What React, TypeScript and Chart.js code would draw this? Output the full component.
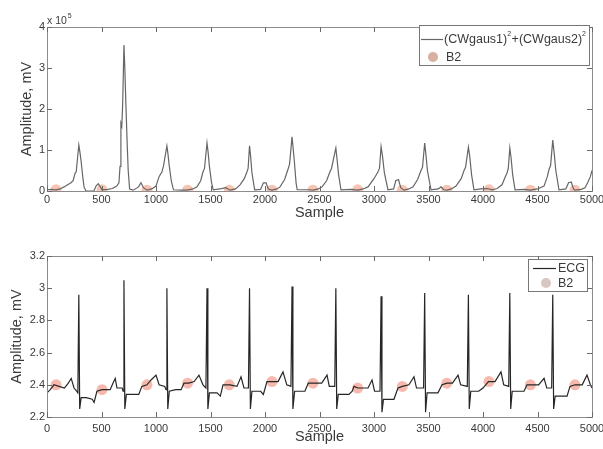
import React, { useEffect, useRef } from "react";
import { Chart, registerables } from "chart.js";

Chart.register(...registerables);

// ---------- data ----------
const xTicks = [0, 500, 1000, 1500, 2000, 2500, 3000, 3500, 4000, 4500, 5000];
const energyTicks = [0, 1, 2, 3, 4];
const ecgTicks = [2.2, 2.4, 2.6, 2.8, 3, 3.2];

// (CWgaus1)^2 + (CWgaus2)^2, in units of 10^5
const energySamples = [
  0, 40, 83, 120, 156, 220, 240, 257, 268, 280, 292, 302, 312, 330, 340, 357,
  430, 450, 470, 490, 505, 560, 600, 640, 660, 670, 678, 686, 694, 706, 714, 724, 735, 745, 758,
  790, 840, 862, 885, 917, 960, 1000, 1028, 1055, 1068, 1100, 1110, 1120, 1140, 1160,
  1230, 1284, 1340, 1376, 1410, 1431, 1445, 1468, 1478, 1490, 1510, 1525,
  1600, 1640, 1679, 1730, 1771, 1810, 1835, 1845, 1858, 1868, 1880, 1905,
  1960, 1985, 2010, 2030, 2064, 2110, 2138, 2180, 2211, 2225, 2248, 2258, 2270, 2285, 2295,
  2400, 2440, 2490, 2523, 2565, 2596, 2610, 2650, 2660, 2675, 2697,
  2790, 2853, 2900, 2945, 3000, 3037, 3050, 3065, 3078, 3095, 3128,
  3180, 3200, 3225, 3245, 3275, 3320, 3358, 3400, 3431, 3445, 3465, 3476, 3490, 3523,
  3590, 3615, 3640, 3670, 3710, 3752, 3800, 3826, 3840, 3866, 3878, 3895, 3917,
  3980, 4040, 4083, 4130, 4174, 4205, 4220, 4232, 4246, 4258, 4272, 4294,
  4380, 4431, 4500, 4560, 4590, 4606, 4620, 4640, 4652, 4668, 4697,
  4760, 4785, 4810, 4830, 4844, 4900, 4936, 4960, 4985, 5000,
];
const energyValues = [
  0.03, 0.04, 0.03, 0.05, 0.1, 0.2, 0.25, 0.43, 0.47, 0.8, 1.12, 0.95, 0.75, 0.3, 0.1, 0.0,
  0.0, 0.12, 0.18, 0.1, 0.03, 0.04, 0.06, 0.12, 0.2, 0.6, 1.65, 1.58, 2.1, 3.56, 3.0, 2.1, 1.2, 0.5, 0.05,
  0.02, 0.1, 0.2, 0.08, 0.02, 0.05, 0.12, 0.35, 0.47, 0.6, 1.1, 0.9, 0.65, 0.25, 0.03,
  0.02, 0.02, 0.05, 0.1, 0.25, 0.47, 0.55, 1.17, 0.95, 0.6, 0.2, 0.03,
  0.06, 0.08, 0.02, 0.05, 0.15, 0.3, 0.47, 0.55, 1.1, 0.85, 0.45, 0.03,
  0.04, 0.2, 0.2, 0.05, 0.02, 0.05, 0.1, 0.28, 0.53, 0.65, 1.32, 1.05, 0.7, 0.2, 0.03,
  0.03, 0.02, 0.05, 0.1, 0.25, 0.47, 0.55, 1.05, 0.8, 0.4, 0.03,
  0.04, 0.02, 0.05, 0.1, 0.3, 0.47, 0.55, 1.08, 0.85, 0.45, 0.03,
  0.05, 0.25, 0.28, 0.08, 0.02, 0.05, 0.1, 0.28, 0.5, 0.58, 1.17, 0.9, 0.5, 0.03,
  0.05, 0.1, 0.03, 0.02, 0.05, 0.12, 0.3, 0.5, 0.58, 1.07, 0.85, 0.4, 0.03,
  0.05, 0.06, 0.03, 0.06, 0.15, 0.35, 0.44, 0.55, 1.05, 0.8, 0.4, 0.03,
  0.04, 0.02, 0.05, 0.12, 0.35, 0.53, 0.62, 1.24, 0.95, 0.5, 0.03,
  0.05, 0.2, 0.22, 0.05, 0.02, 0.04, 0.08, 0.2, 0.35, 0.5,
];

// ECG, mV
const ecgSamples = [
  0, 30, 64, 110, 160, 195, 222, 248, 272, 283, 292, 300, 313,
  360, 415, 432, 458, 505, 580, 605, 626, 642, 690, 698, 706, 714, 728,
  790, 842, 870, 917, 955, 1000, 1028, 1080, 1092, 1100, 1108, 1122,
  1180, 1230, 1257, 1300, 1350, 1394, 1431, 1458, 1468, 1476, 1490,
  1560, 1590, 1615, 1679, 1743, 1780, 1807, 1848, 1858, 1866, 1880,
  1960, 1985, 2018, 2064, 2120, 2165, 2200, 2238, 2248, 2256, 2272,
  2366, 2397, 2440, 2520, 2569, 2590, 2640, 2650, 2658, 2672,
  2770, 2800, 2817, 2853, 2945, 2982, 3005, 3055, 3065, 3073, 3087,
  3183, 3220, 3260, 3320, 3367, 3390, 3455, 3465, 3473, 3487,
  3587, 3624, 3670, 3720, 3771, 3795, 3856, 3866, 3874, 3888,
  3960, 4000, 4050, 4110, 4165, 4190, 4236, 4246, 4254, 4268,
  4376, 4404, 4431, 4510, 4560, 4585, 4630, 4640, 4648, 4662,
  4771, 4798, 4844, 4910, 4954, 4985, 5000,
];
const ecgValues = [
  2.35, 2.37, 2.4, 2.39, 2.38, 2.41, 2.44, 2.38, 2.36, 2.35, 2.96, 2.25, 2.32,
  2.32, 2.31, 2.29, 2.36, 2.37, 2.37, 2.41, 2.44, 2.38, 2.38, 2.36, 3.05, 2.25, 2.34,
  2.34, 2.34, 2.39, 2.4, 2.43, 2.46, 2.4, 2.39, 2.37, 3.0, 2.25, 2.36,
  2.37, 2.37, 2.41, 2.41, 2.42, 2.46, 2.4, 2.38, 3.0, 2.25, 2.35,
  2.35, 2.33, 2.4, 2.4, 2.39, 2.45, 2.38, 2.38, 3.0, 2.25, 2.36,
  2.36, 2.34, 2.42, 2.42, 2.42, 2.48, 2.4, 2.39, 3.01, 2.25, 2.36,
  2.36, 2.41, 2.41, 2.41, 2.46, 2.39, 2.39, 3.0, 2.25, 2.34,
  2.34, 2.36, 2.39, 2.38, 2.38, 2.43, 2.36, 2.36, 2.95, 2.23, 2.31,
  2.31, 2.38, 2.39, 2.4, 2.45, 2.38, 2.38, 2.97, 2.23, 2.35,
  2.35, 2.4, 2.41, 2.41, 2.46, 2.4, 2.39, 2.96, 2.25, 2.36,
  2.36, 2.38, 2.42, 2.42, 2.48, 2.4, 2.39, 2.97, 2.25, 2.36,
  2.36, 2.4, 2.4, 2.4, 2.44, 2.38, 2.38, 2.96, 2.25, 2.33,
  2.33, 2.39, 2.4, 2.4, 2.46, 2.4, 2.38,
];

// B2 points
const b2Samples = [83, 505, 917, 1290, 1672, 2064, 2440, 2850, 3260, 3668, 4055, 4435, 4844];
const b2Energy = [0.03, 0.03, 0.02, 0.02, 0.02, 0.02, 0.02, 0.03, 0.02, 0.02, 0.03, 0.02, 0.02];
const b2Ecg = [2.4, 2.37, 2.4, 2.41, 2.4, 2.42, 2.41, 2.38, 2.39, 2.41, 2.42, 2.4, 2.4];

// ---------- styling ----------
const FONT = "'Liberation Sans', Arial, sans-serif";
const TEXT = "#3a3a3a";
const FRAME = "#8c8c8c";

type Panel = {
  height: number;
  padTop: number;
  xAxisH: number;
  xLabelPad: number;
  xTitlePad: number;
  yTitlePad: number;
  yMin: number;
  yMax: number;
  yTicks: number[];
  lineX: number[];
  lineY: number[];
  lineColor: string;
  markY: number[];
  markColor: string;
  legend: (ctx: CanvasRenderingContext2D) => void;
  extra?: (ctx: CanvasRenderingContext2D) => void;
};

function framePlugin(p: Panel) {
  return {
    id: "frameTicks",
    afterDraw(chart: any) {
      const { ctx, chartArea } = chart;
      const { left, right, top, bottom } = chartArea;
      const xs = chart.scales.x;
      const ys = chart.scales.y;
      ctx.save();
      ctx.strokeStyle = FRAME;
      ctx.lineWidth = 1;
      ctx.strokeRect(Math.round(left) + 0.5, Math.round(top) + 0.5, Math.round(right - left), Math.round(bottom - top));
      ctx.strokeStyle = "#6a6a6a";
      const tl = 5;
      ctx.beginPath();
      for (const v of xTicks) {
        const px = Math.round(xs.getPixelForValue(v)) + 0.5;
        ctx.moveTo(px, bottom);
        ctx.lineTo(px, bottom - tl);
        ctx.moveTo(px, top);
        ctx.lineTo(px, top + tl);
      }
      for (const v of p.yTicks) {
        const py = Math.round(ys.getPixelForValue(v)) + 0.5;
        ctx.moveTo(left, py);
        ctx.lineTo(left + tl, py);
        ctx.moveTo(right, py);
        ctx.lineTo(right - tl, py);
      }
      ctx.stroke();
      p.legend(ctx);
      if (p.extra) p.extra(ctx);
      ctx.restore();
    },
  };
}

function drawBlob(ctx: CanvasRenderingContext2D, x: number, y: number, color: string) {
  ctx.beginPath();
  ctx.arc(x, y, 5, 0, Math.PI * 2);
  ctx.fillStyle = color;
  ctx.fill();
}

const topPanel: Panel = {
  height: 225,
  padTop: 27,
  xAxisH: 34,
  xLabelPad: 2,
  xTitlePad: 3,
  yTitlePad: 18,
  yMin: 0,
  yMax: 4,
  yTicks: energyTicks,
  lineX: energySamples,
  lineY: energyValues,
  lineColor: "#666666",
  markY: b2Energy,
  markColor: "rgba(240,125,85,0.45)",
  legend: (ctx) => {
    ctx.fillStyle = "#ffffff";
    ctx.fillRect(419.5, 25.5, 170, 40);
    ctx.strokeStyle = "#777";
    ctx.lineWidth = 1;
    ctx.strokeRect(419.5, 25.5, 170, 40);
    ctx.strokeStyle = "#666666";
    ctx.lineWidth = 1.2;
    ctx.beginPath();
    ctx.moveTo(421, 39.5);
    ctx.lineTo(443, 39.5);
    ctx.stroke();
    ctx.fillStyle = TEXT;
    ctx.textBaseline = "middle";
    ctx.textAlign = "left";
    const big = `12.5px ${FONT}`;
    const small = `7px ${FONT}`;
    let x = 444;
    const parts: [string, boolean][] = [
      ["(CWgaus1)", false],
      ["2", true],
      ["+(CWgaus2)", false],
      ["2", true],
    ];
    for (const [t, sup] of parts) {
      ctx.font = sup ? small : big;
      ctx.fillText(t, x, sup ? 34 : 40);
      x += ctx.measureText(t).width + (sup ? 0.5 : 0);
    }
    drawBlob(ctx, 433, 57, "rgba(240,125,85,0.5)");
    drawBlob(ctx, 433, 57, "rgba(150,150,150,0.3)");
    ctx.fillStyle = TEXT;
    ctx.font = big;
    ctx.fillText("B2", 446, 57.5);
  },
  extra: (ctx) => {
    ctx.fillStyle = TEXT;
    ctx.textBaseline = "middle";
    ctx.textAlign = "left";
    ctx.font = `10.5px ${FONT}`;
    ctx.fillText("x 10", 47, 21);
    const w = ctx.measureText("x 10").width;
    ctx.font = `7px ${FONT}`;
    ctx.fillText("5", 47 + w + 1, 16);
  },
};

const bottomPanel: Panel = {
  height: 224,
  padTop: 31,
  xAxisH: 32,
  xLabelPad: 5,
  xTitlePad: 3,
  yTitlePad: 8,
  yMin: 2.2,
  yMax: 3.2,
  yTicks: ecgTicks,
  lineX: ecgSamples,
  lineY: ecgValues,
  lineColor: "#262626",
  markY: b2Ecg,
  markColor: "rgba(235,100,75,0.45)",
  legend: (ctx) => {
    const oy = 225;
    ctx.fillStyle = "#ffffff";
    ctx.fillRect(528.5, 259.5 - oy, 59, 32);
    ctx.strokeStyle = "#777";
    ctx.lineWidth = 1;
    ctx.strokeRect(528.5, 259.5 - oy, 59, 32);
    ctx.strokeStyle = "#262626";
    ctx.lineWidth = 1.2;
    ctx.beginPath();
    ctx.moveTo(533, 268.5 - oy);
    ctx.lineTo(556, 268.5 - oy);
    ctx.stroke();
    ctx.fillStyle = TEXT;
    ctx.textBaseline = "middle";
    ctx.textAlign = "left";
    ctx.font = `12.5px ${FONT}`;
    ctx.fillText("ECG", 558, 269 - oy);
    drawBlob(ctx, 546, 283 - oy, "rgba(190,160,150,0.6)");
    ctx.fillStyle = TEXT;
    ctx.fillText("B2", 558, 283.5 - oy);
  },
};

function buildConfig(p: Panel): any {
  const tickFont = { family: FONT, size: 11 };
  const titleFont = { family: FONT, size: 14.5 };
  return {
    type: "line",
    data: {
      datasets: [
        {
          data: p.lineX.map((x, i) => ({ x, y: p.lineY[i] })),
          borderColor: p.lineColor,
          borderWidth: 1.2,
          pointRadius: 0,
          fill: false,
          tension: 0,
        },
        {
          data: b2Samples.map((x, i) => ({ x, y: p.markY[i] })),
          showLine: false,
          pointRadius: 5.5,
          pointBorderWidth: 0,
          pointBackgroundColor: p.markColor,
          pointBorderColor: "rgba(0,0,0,0)",
        },
      ],
    },
    options: {
      responsive: false,
      devicePixelRatio: 1,
      animation: false,
      events: [],
      layout: { padding: { left: 0, top: p.padTop, right: 11, bottom: 0 } },
      plugins: { legend: { display: false }, tooltip: { enabled: false } },
      scales: {
        x: {
          type: "linear",
          min: 0,
          max: 5000,
          afterBuildTicks: (s: any) => {
            s.ticks = xTicks.map((v) => ({ value: v }));
          },
          afterFit: (s: any) => {
            s.height = p.xAxisH;
            s.paddingLeft = 0;
            s.paddingRight = 0;
          },
          ticks: {
            autoSkip: false,
            maxRotation: 0,
            minRotation: 0,
            padding: p.xLabelPad,
            font: tickFont,
            color: TEXT,
            callback: (v: any) => String(v),
          },
          grid: { display: false, drawTicks: false },
          border: { display: false },
          title: {
            display: true,
            text: "Sample",
            font: titleFont,
            color: TEXT,
            padding: { top: 0, bottom: p.xTitlePad },
          },
        },
        y: {
          type: "linear",
          min: p.yMin,
          max: p.yMax,
          afterBuildTicks: (s: any) => {
            s.ticks = p.yTicks.map((v) => ({ value: v }));
          },
          afterFit: (s: any) => {
            s.width = 47;
            s.paddingTop = 0;
            s.paddingBottom = 0;
          },
          ticks: {
            padding: 2,
            font: tickFont,
            color: TEXT,
            callback: (v: any) => String(Number(v)),
          },
          grid: { display: false, drawTicks: false },
          border: { display: false },
          title: {
            display: true,
            text: "Amplitude, mV",
            font: titleFont,
            color: TEXT,
            padding: { top: p.yTitlePad, bottom: 0 },
          },
        },
      },
    },
    plugins: [framePlugin(p)],
  };
}

function PanelChart({ panel, top }: { panel: Panel; top: number }) {
  const ref = useRef<HTMLCanvasElement | null>(null);
  useEffect(() => {
    if (!ref.current) return;
    const chart = new Chart(ref.current, buildConfig(panel));
    return () => chart.destroy();
  }, [panel]);
  return (
    <canvas
      ref={ref}
      width={603}
      height={panel.height}
      style={{ position: "absolute", left: 0, top, width: 603, height: panel.height, display: "block" }}
    />
  );
}

export default function App() {
  return (
    <div
      style={{
        position: "fixed",
        left: 0,
        top: 0,
        width: 603,
        height: 449,
        background: "#ffffff",
        overflow: "hidden",
      }}
    >
      <PanelChart panel={topPanel} top={0} />
      <PanelChart panel={bottomPanel} top={225} />
    </div>
  );
}
